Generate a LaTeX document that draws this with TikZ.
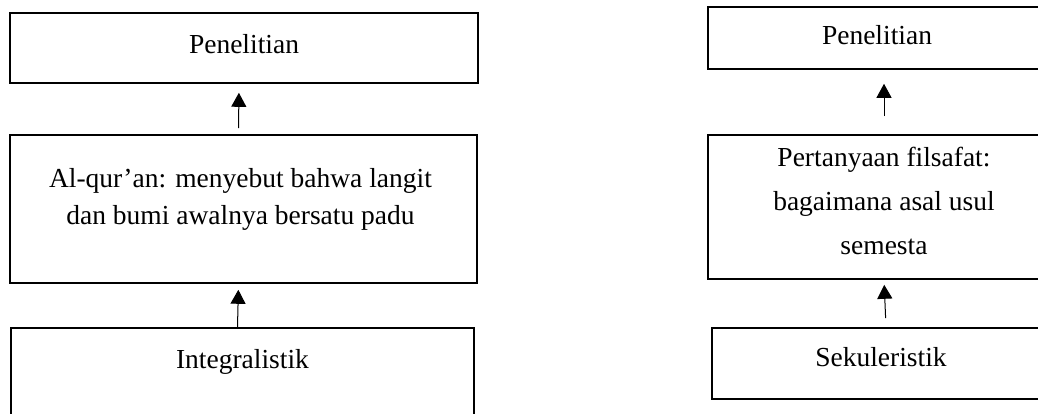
\documentclass[tikz,border=0pt]{standalone}
\usepackage{fontspec}
\setmainfont{Liberation Serif}
\usetikzlibrary{arrows.meta,positioning}

\begin{document}
\begin{tikzpicture}[x=1pt,y=1pt,
    box/.style={draw=black, line width=1.6pt, rectangle, inner sep=0pt},
    lbl/.style={font=\fontsize{27.5}{37}\selectfont, align=center, inner sep=0pt, anchor=base},
    arr/.style={-{Triangle[length=14pt,width=15pt]}, line width=1pt}]

  \useasboundingbox (0,0) rectangle (1038,414);
  \clip (0,0) rectangle (1038,414);

  % left column
  \node[box, minimum width=468pt, minimum height=70pt] (ltop) at (244,366) {};
  \node[box, minimum width=467pt, minimum height=148pt] (lmid) at (243.5,205) {};
  \node[box, minimum width=463pt, minimum height=102pt] (lbot) at (242.5,35) {};

  \node[lbl] (ltopT) at ([yshift=-41pt]ltop.north) {Penelitian};
  \node[lbl] (lmidT) at ([xshift=-3pt,yshift=-90pt]lmid.north)
    {Al-qur’an: menyebut bahwa langit\\dan bumi awalnya bersatu padu};
  \node[lbl] (lbotT) at ([yshift=-41pt]lbot.north) {Integralistik};

  \draw[arr, shorten <=6pt, shorten >=9pt] ([xshift=-5pt]lmid.north) -- ([xshift=-5pt]ltop.south);
  \draw[arr, shorten >=6pt] ([xshift=-5pt]lbot.north) -- ([xshift=-5pt]lmid.south);

  % right column
  \node[box, minimum width=352pt, minimum height=62pt] (rtop) at (884,376) {};
  \node[box, minimum width=352pt, minimum height=144pt] (rmid) at (884,207) {};
  \node[box, minimum width=348pt, minimum height=71pt] (rbot) at (886,50.5) {};

  \node[lbl] (rtopT) at ([xshift=-7pt,yshift=-38pt]rtop.north) {Penelitian};
  \node[lbl, font=\fontsize{27.5}{44}\selectfont] (rmidT) at ([yshift=-120pt]rmid.north)
    {Pertanyaan filsafat:\\bagaimana asal usul\\semesta};
  \node[lbl] (rbotT) at ([xshift=-5pt,yshift=-39pt]rbot.north) {Sekuleristik};

  \draw[arr, shorten <=18pt, shorten >=14pt] (rmid.north) -- (rtop.south);
  \draw[arr, shorten <=9pt, shorten >=5pt] (rbot.north) -- (rmid.south);

\end{tikzpicture}
\end{document}
